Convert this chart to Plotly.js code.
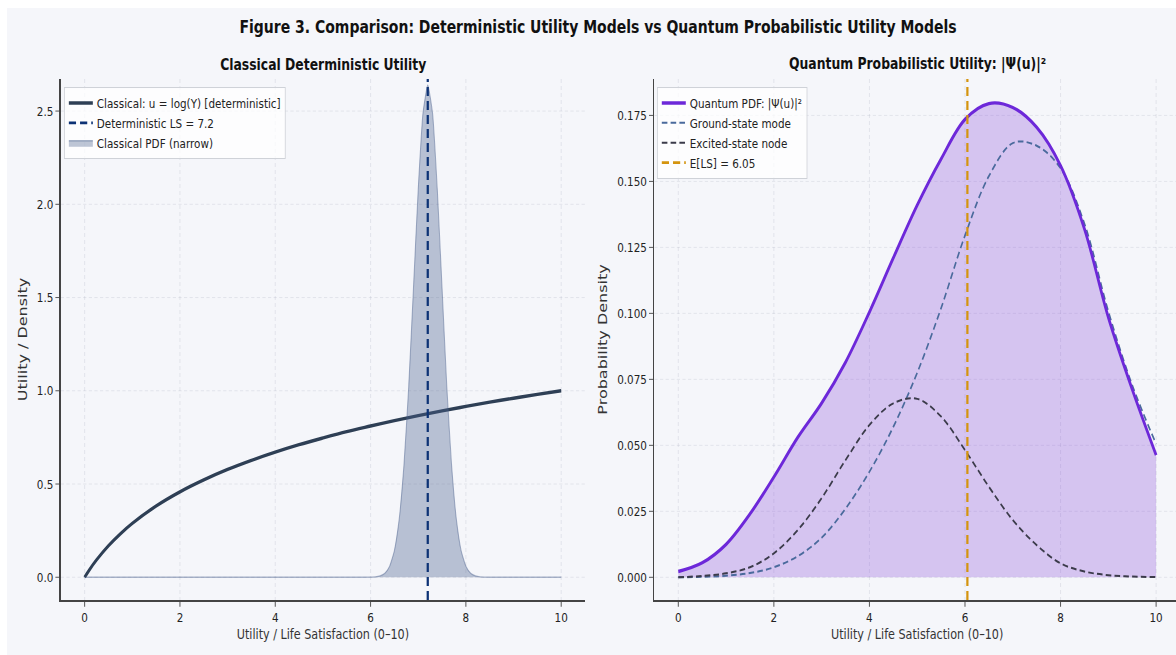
<!DOCTYPE html>
<html><head><meta charset="utf-8">
<script src="https://cdn.plot.ly/plotly-3.0.1.min.js"></script>
<style>
html,body{margin:0;padding:0;overflow:hidden;background:#ffffff;width:1176px;height:655px;}
#bg{position:absolute;left:7px;top:8px;right:0;bottom:0;background:#f5f6fa;}
#chart{position:absolute;left:0;top:0;width:1475px;height:655px;transform:scaleX(0.8);transform-origin:0 0;}
</style></head><body>
<div id="bg"></div><div id="chart"></div>
<script>
// ---- Left panel data ----
const classicalX = [0,0.1,0.25,0.5,0.75,1,1.5,2,2.5,3,3.5,4,4.5,5,5.5,6,6.5,7,7.5,8,8.5,9,9.5,10];
const classicalU = [0,0.040,0.093,0.169,0.233,0.289,0.382,0.458,0.522,0.578,0.627,0.671,0.711,0.747,0.781,0.811,0.840,0.867,0.892,0.916,0.939,0.960,0.981,1.0];
const pdfX = [0,5.9,6.0,6.1,6.2,6.3,6.4,6.5,6.6,6.7,6.8,6.9,7.0,7.1,7.2,7.3,7.4,7.5,7.6,7.7,7.8,7.9,8.0,8.1,8.2,8.3,8.4,8.5,10];
const pdfY = [0,0,0.001,0.002,0.007,0.021,0.059,0.143,0.31,0.60,1.02,1.55,2.08,2.49,2.64,2.49,2.08,1.55,1.02,0.60,0.31,0.143,0.059,0.021,0.007,0.002,0.001,0,0];
const deterministicLS = 7.2;

// ---- Right panel data ----
const uX = [0,0.5,1,1.5,2,2.5,3,3.5,4,4.5,5,5.5,6,6.5,7,7.5,8,8.5,9,9.5,10];
const quantumPdf = [0.0022,0.0055,0.0125,0.0240,0.0380,0.0530,0.0660,0.0815,0.1005,0.1210,0.1410,0.1585,0.1735,0.1795,0.1780,0.1705,0.1560,0.1320,0.0985,0.0712,0.0463];
const groundMode = [0.0000,0.0002,0.0006,0.0016,0.0038,0.0080,0.0150,0.0260,0.0400,0.0570,0.0775,0.1020,0.1295,0.1520,0.1645,0.1635,0.1550,0.1340,0.1008,0.0728,0.0505];
const excitedNode = [0.0000,0.0005,0.0015,0.0038,0.0091,0.0179,0.0300,0.0444,0.0577,0.0659,0.0676,0.0609,0.0482,0.0343,0.0217,0.0122,0.0053,0.0022,0.0008,0.0003,0.0001];
const expectedLS = 6.05;

const xTicks = [0,2,4,6,8,10];
const xRange = [-0.5,10.5];
const yRangeL = [-0.122,2.672];
const yRangeR = [-0.0086,0.1888];

const FONT = 'DejaVu Sans, Verdana, sans-serif';
const BG = '#f5f6fa';

const traces = [
  {x:classicalX, y:classicalU, type:'scatter', mode:'lines', name:'Classical: u = log(Y) [deterministic]',
   line:{color:'#2e3f55', width:3.4, shape:'spline', smoothing:1}, xaxis:'x', yaxis:'y', legend:'legend', legendrank:1},
  {x:pdfX, y:pdfY, type:'scatter', mode:'lines', name:'Classical PDF (narrow)', fill:'tozeroy',
   fillcolor:'rgba(74,96,140,0.36)', line:{color:'rgba(74,96,140,0.45)', width:1.3, shape:'spline', smoothing:0.5},
   xaxis:'x', yaxis:'y', legend:'legend', legendrank:3},
  {x:[deterministicLS,deterministicLS], y:yRangeL, type:'scatter', mode:'lines', name:'Deterministic LS = 7.2',
   line:{color:'#0d3275', width:2.8, dash:'9px,5px'}, xaxis:'x', yaxis:'y', legend:'legend', legendrank:2},

  {x:uX, y:quantumPdf, type:'scatter', mode:'lines', fill:'tozeroy', fillcolor:'rgba(138,80,220,0.30)',
   line:{width:0, shape:'spline', smoothing:1}, showlegend:false, hoverinfo:'skip', xaxis:'x2', yaxis:'y2'},
  {x:uX, y:groundMode, type:'scatter', mode:'lines', name:'Ground-state mode',
   line:{color:'#4a6a9c', width:2, dash:'7px,4px', shape:'spline', smoothing:1}, xaxis:'x2', yaxis:'y2', legend:'legend2', legendrank:2},
  {x:uX, y:excitedNode, type:'scatter', mode:'lines', name:'Excited-state node',
   line:{color:'#3b3b4a', width:2, dash:'7px,4px', shape:'spline', smoothing:1}, xaxis:'x2', yaxis:'y2', legend:'legend2', legendrank:3},
  {x:uX, y:quantumPdf, type:'scatter', mode:'lines', name:'Quantum PDF: |Ψ(u)|²',
   line:{color:'#6d28d9', width:3.4, shape:'spline', smoothing:1}, xaxis:'x2', yaxis:'y2', legend:'legend2', legendrank:1},
  {x:[expectedLS,expectedLS], y:yRangeR, type:'scatter', mode:'lines', name:'E[LS] = 6.05',
   line:{color:'#d4940f', width:2.8, dash:'9px,5px'}, xaxis:'x2', yaxis:'y2', legend:'legend2', legendrank:4}
];

const axisCommon = {
  showline:true, linecolor:'#444', linewidth:1.5, mirror:false, zeroline:false,
  showgrid:true, gridcolor:'rgba(170,176,190,0.28)', griddash:'4px,3px', gridwidth:1,
  ticks:'outside', ticklen:5, tickwidth:1.2, tickcolor:'#444',
  tickfont:{family:FONT, size:13, color:'#222'}
};
const xTitle = {text:'Utility / Life Satisfaction (0–10)', font:{family:FONT, size:14, color:'#333'}, standoff:5};

const legendCommon = {
  font:{family:FONT, size:13, color:'#222'}, bgcolor:'rgba(255,255,255,0.75)',
  bordercolor:'#cfd2d8', borderwidth:1, xanchor:'left', yanchor:'top', itemwidth:30,
  traceorder:'normal', tracegroupgap:0
};

const layout = {
  width:1475, height:655,
  paper_bgcolor:'rgba(0,0,0,0)', plot_bgcolor:BG,
  margin:{l:76, r:0, t:79, b:55},
  title:{text:'Figure 3. Comparison: Deterministic Utility Models vs Quantum Probabilistic Utility Models',
         font:{family:FONT, size:17.5, weight:'bold', color:'#111'},
         xref:'container', x:0.5068, xanchor:'center', yref:'container', y:0.9588, yanchor:'middle'},
  xaxis:Object.assign({}, axisCommon, {domain:[0,0.4684], range:xRange, tickvals:xTicks, title:xTitle, anchor:'y'}),
  yaxis:Object.assign({}, axisCommon, {range:yRangeL, dtick:0.5, tick0:0, tickformat:'.1f', anchor:'x',
         title:{text:'Utility / Density', font:{family:FONT, size:16, color:'#333'}, standoff:8}}),
  xaxis2:Object.assign({}, axisCommon, {domain:[0.5304,1], range:xRange, tickvals:xTicks, title:xTitle, anchor:'y2'}),
  yaxis2:Object.assign({}, axisCommon, {range:yRangeR, dtick:0.025, tick0:0, tickformat:'.3f', anchor:'x2',
         title:{text:'Probability Density', font:{family:FONT, size:16, color:'#333'}, standoff:8}}),
  legend:Object.assign({}, legendCommon, {x:0.0029, y:0.9846}),
  legend2:Object.assign({}, legendCommon, {x:0.5327, y:0.9846}),
  annotations:[
    {text:'Classical Deterministic Utility', xref:'paper', yref:'paper', x:0.2342, y:1.0269,
     xanchor:'center', yanchor:'middle', showarrow:false, font:{family:FONT, size:15.5, weight:'bold', color:'#111'}},
    {text:'Quantum Probabilistic Utility: |Ψ(u)|²', xref:'paper', yref:'paper', x:0.7652, y:1.0269,
     xanchor:'center', yanchor:'middle', showarrow:false, font:{family:FONT, size:15.5, weight:'bold', color:'#111'}}
  ],
  showlegend:true
};

Plotly.newPlot('chart', traces, layout, {displayModeBar:false, responsive:false});
</script>
</body></html>
